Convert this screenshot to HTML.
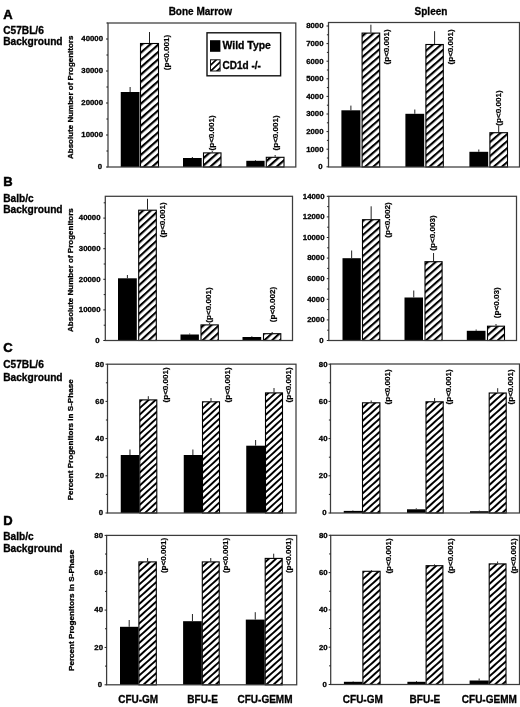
<!DOCTYPE html>
<html><head><meta charset="utf-8"><title>Figure</title>
<style>html,body{margin:0;padding:0;background:#fff;}body{width:520px;height:707px;overflow:hidden;font-family:"Liberation Sans",sans-serif;}svg{display:block;will-change:transform;filter:blur(0.45px);}text{fill:#000;stroke:#000;stroke-width:0.3px;}</style></head>
<body>
<svg width="520" height="707" viewBox="0 0 520 707">
<defs><pattern id="hal" patternUnits="userSpaceOnUse" width="5.480" height="10" patternTransform="rotate(48.65)"><rect x="0" y="0" width="5.480" height="10" fill="#fff"/><rect x="0" y="0" width="2.192" height="10" fill="#000"/></pattern><pattern id="har" patternUnits="userSpaceOnUse" width="5.281" height="10" patternTransform="rotate(48.98)"><rect x="0" y="0" width="5.281" height="10" fill="#fff"/><rect x="0" y="0" width="2.112" height="10" fill="#000"/></pattern><pattern id="hbl" patternUnits="userSpaceOnUse" width="5.225" height="10" patternTransform="rotate(47.39)"><rect x="0" y="0" width="5.225" height="10" fill="#fff"/><rect x="0" y="0" width="2.090" height="10" fill="#000"/></pattern><pattern id="hbr" patternUnits="userSpaceOnUse" width="5.255" height="10" patternTransform="rotate(48.65)"><rect x="0" y="0" width="5.255" height="10" fill="#fff"/><rect x="0" y="0" width="2.102" height="10" fill="#000"/></pattern><pattern id="hcl" patternUnits="userSpaceOnUse" width="4.747" height="10" patternTransform="rotate(47.39)"><rect x="0" y="0" width="4.747" height="10" fill="#fff"/><rect x="0" y="0" width="1.899" height="10" fill="#000"/></pattern><pattern id="hcr" patternUnits="userSpaceOnUse" width="4.906" height="10" patternTransform="rotate(48.01)"><rect x="0" y="0" width="4.906" height="10" fill="#fff"/><rect x="0" y="0" width="1.962" height="10" fill="#000"/></pattern><pattern id="hdl" patternUnits="userSpaceOnUse" width="4.831" height="10" patternTransform="rotate(48.01)"><rect x="0" y="0" width="4.831" height="10" fill="#fff"/><rect x="0" y="0" width="1.933" height="10" fill="#000"/></pattern><pattern id="hdr" patternUnits="userSpaceOnUse" width="4.906" height="10" patternTransform="rotate(48.01)"><rect x="0" y="0" width="4.906" height="10" fill="#fff"/><rect x="0" y="0" width="1.962" height="10" fill="#000"/></pattern><pattern id="hleg" patternUnits="userSpaceOnUse" width="4.350" height="10" patternTransform="rotate(46.47)"><rect x="0" y="0" width="4.350" height="10" fill="#fff"/><rect x="0" y="0" width="1.740" height="10" fill="#000"/></pattern></defs>
<g><rect x="120.75" y="92" width="18.75" height="75.00" fill="#000"/><line x1="130.12" y1="92" x2="130.12" y2="87" stroke="#222" stroke-width="1"/><rect x="140.5" y="43.5" width="18.00" height="123.50" fill="url(#hal)" stroke="#000" stroke-width="1.1"/><line x1="149.50" y1="43" x2="149.50" y2="32" stroke="#222" stroke-width="1"/><rect x="183" y="158" width="18.70" height="9.00" fill="#000"/><line x1="192.35" y1="158" x2="192.35" y2="157" stroke="#222" stroke-width="1"/><rect x="203.5" y="152.9" width="17.50" height="14.10" fill="url(#hal)" stroke="#000" stroke-width="1.1"/><line x1="212.25" y1="152.4" x2="212.25" y2="151" stroke="#222" stroke-width="1"/><rect x="246.3" y="160.8" width="18.30" height="6.20" fill="#000"/><line x1="255.45" y1="160.8" x2="255.45" y2="160" stroke="#222" stroke-width="1"/><rect x="266.3" y="157.3" width="17.70" height="9.70" fill="url(#hal)" stroke="#000" stroke-width="1.1"/><line x1="275.15" y1="156.8" x2="275.15" y2="155" stroke="#222" stroke-width="1"/><rect x="108" y="23" width="187.80" height="144.00" fill="none" stroke="#3c3c3c" stroke-width="1.25"/><line x1="106.0" y1="167.00" x2="108" y2="167.00" stroke="#222" stroke-width="1"/><text x="102.10" y="169.35" text-anchor="end" style="font-family:&quot;Liberation Sans&quot;,sans-serif;font-weight:bold;font-size:7.8px">0</text><line x1="106.0" y1="135.00" x2="108" y2="135.00" stroke="#222" stroke-width="1"/><text x="103.00" y="137.35" text-anchor="end" style="font-family:&quot;Liberation Sans&quot;,sans-serif;font-weight:bold;font-size:7.8px">10000</text><line x1="106.0" y1="103.00" x2="108" y2="103.00" stroke="#222" stroke-width="1"/><text x="103.00" y="105.35" text-anchor="end" style="font-family:&quot;Liberation Sans&quot;,sans-serif;font-weight:bold;font-size:7.8px">20000</text><line x1="106.0" y1="71.00" x2="108" y2="71.00" stroke="#222" stroke-width="1"/><text x="103.00" y="73.35" text-anchor="end" style="font-family:&quot;Liberation Sans&quot;,sans-serif;font-weight:bold;font-size:7.8px">30000</text><line x1="106.0" y1="39.00" x2="108" y2="39.00" stroke="#222" stroke-width="1"/><text x="103.00" y="41.35" text-anchor="end" style="font-family:&quot;Liberation Sans&quot;,sans-serif;font-weight:bold;font-size:7.8px">40000</text><line x1="106.4" y1="151.00" x2="108" y2="151.00" stroke="#222" stroke-width="1"/><line x1="106.4" y1="119.00" x2="108" y2="119.00" stroke="#222" stroke-width="1"/><line x1="106.4" y1="87.00" x2="108" y2="87.00" stroke="#222" stroke-width="1"/><line x1="106.4" y1="55.00" x2="108" y2="55.00" stroke="#222" stroke-width="1"/><line x1="106.4" y1="23.00" x2="108" y2="23.00" stroke="#222" stroke-width="1"/><text transform="translate(168.50,70.20) rotate(-90)" style="font-family:&quot;Liberation Sans&quot;,sans-serif;font-weight:bold;font-size:8.1px;stroke-width:0.22px">(p&lt;0.001)</text><text transform="translate(214.30,150.50) rotate(-90)" style="font-family:&quot;Liberation Sans&quot;,sans-serif;font-weight:bold;font-size:8.1px;stroke-width:0.22px">(p&lt;0.001)</text><text transform="translate(277.50,150.50) rotate(-90)" style="font-family:&quot;Liberation Sans&quot;,sans-serif;font-weight:bold;font-size:8.1px;stroke-width:0.22px">(p&lt;0.001)</text></g>
<g><rect x="341.4" y="110.3" width="19.00" height="56.70" fill="#000"/><line x1="350.90" y1="110.3" x2="350.90" y2="105.6" stroke="#222" stroke-width="1"/><rect x="362.1" y="33.1" width="17.60" height="133.90" fill="url(#har)" stroke="#000" stroke-width="1.1"/><line x1="370.90" y1="32.6" x2="370.90" y2="24.7" stroke="#222" stroke-width="1"/><rect x="405.4" y="113.8" width="18.80" height="53.20" fill="#000"/><line x1="414.80" y1="113.8" x2="414.80" y2="109.5" stroke="#222" stroke-width="1"/><rect x="425.9" y="44.5" width="17.40" height="122.50" fill="url(#har)" stroke="#000" stroke-width="1.1"/><line x1="434.60" y1="44" x2="434.60" y2="31.2" stroke="#222" stroke-width="1"/><rect x="469.4" y="151.8" width="18.80" height="15.20" fill="#000"/><line x1="478.80" y1="151.8" x2="478.80" y2="149.5" stroke="#222" stroke-width="1"/><rect x="489.9" y="132.7" width="17.60" height="34.30" fill="url(#har)" stroke="#000" stroke-width="1.1"/><line x1="498.70" y1="132.2" x2="498.70" y2="125.5" stroke="#222" stroke-width="1"/><rect x="328.5" y="22.5" width="191.00" height="144.50" fill="none" stroke="#3c3c3c" stroke-width="1.25"/><line x1="326.5" y1="166.80" x2="328.5" y2="166.80" stroke="#222" stroke-width="1"/><text x="322.60" y="169.15" text-anchor="end" style="font-family:&quot;Liberation Sans&quot;,sans-serif;font-weight:bold;font-size:7.8px">0</text><line x1="326.5" y1="149.20" x2="328.5" y2="149.20" stroke="#222" stroke-width="1"/><text x="323.50" y="151.55" text-anchor="end" style="font-family:&quot;Liberation Sans&quot;,sans-serif;font-weight:bold;font-size:7.8px">1000</text><line x1="326.5" y1="131.60" x2="328.5" y2="131.60" stroke="#222" stroke-width="1"/><text x="323.50" y="133.95" text-anchor="end" style="font-family:&quot;Liberation Sans&quot;,sans-serif;font-weight:bold;font-size:7.8px">2000</text><line x1="326.5" y1="114.00" x2="328.5" y2="114.00" stroke="#222" stroke-width="1"/><text x="323.50" y="116.35" text-anchor="end" style="font-family:&quot;Liberation Sans&quot;,sans-serif;font-weight:bold;font-size:7.8px">3000</text><line x1="326.5" y1="96.40" x2="328.5" y2="96.40" stroke="#222" stroke-width="1"/><text x="323.50" y="98.75" text-anchor="end" style="font-family:&quot;Liberation Sans&quot;,sans-serif;font-weight:bold;font-size:7.8px">4000</text><line x1="326.5" y1="78.80" x2="328.5" y2="78.80" stroke="#222" stroke-width="1"/><text x="323.50" y="81.15" text-anchor="end" style="font-family:&quot;Liberation Sans&quot;,sans-serif;font-weight:bold;font-size:7.8px">5000</text><line x1="326.5" y1="61.20" x2="328.5" y2="61.20" stroke="#222" stroke-width="1"/><text x="323.50" y="63.55" text-anchor="end" style="font-family:&quot;Liberation Sans&quot;,sans-serif;font-weight:bold;font-size:7.8px">6000</text><line x1="326.5" y1="43.60" x2="328.5" y2="43.60" stroke="#222" stroke-width="1"/><text x="323.50" y="45.95" text-anchor="end" style="font-family:&quot;Liberation Sans&quot;,sans-serif;font-weight:bold;font-size:7.8px">7000</text><line x1="326.5" y1="26.00" x2="328.5" y2="26.00" stroke="#222" stroke-width="1"/><text x="323.50" y="28.35" text-anchor="end" style="font-family:&quot;Liberation Sans&quot;,sans-serif;font-weight:bold;font-size:7.8px">8000</text><line x1="326.9" y1="158.00" x2="328.5" y2="158.00" stroke="#222" stroke-width="1"/><line x1="326.9" y1="140.40" x2="328.5" y2="140.40" stroke="#222" stroke-width="1"/><line x1="326.9" y1="122.80" x2="328.5" y2="122.80" stroke="#222" stroke-width="1"/><line x1="326.9" y1="105.20" x2="328.5" y2="105.20" stroke="#222" stroke-width="1"/><line x1="326.9" y1="87.60" x2="328.5" y2="87.60" stroke="#222" stroke-width="1"/><line x1="326.9" y1="70.00" x2="328.5" y2="70.00" stroke="#222" stroke-width="1"/><line x1="326.9" y1="52.40" x2="328.5" y2="52.40" stroke="#222" stroke-width="1"/><line x1="326.9" y1="34.80" x2="328.5" y2="34.80" stroke="#222" stroke-width="1"/><text transform="translate(388.90,64.50) rotate(-90)" style="font-family:&quot;Liberation Sans&quot;,sans-serif;font-weight:bold;font-size:8.1px;stroke-width:0.22px">(p&lt;0.001)</text><text transform="translate(453.20,64.50) rotate(-90)" style="font-family:&quot;Liberation Sans&quot;,sans-serif;font-weight:bold;font-size:8.1px;stroke-width:0.22px">(p&lt;0.001)</text><text transform="translate(500.70,125.70) rotate(-90)" style="font-family:&quot;Liberation Sans&quot;,sans-serif;font-weight:bold;font-size:8.1px;stroke-width:0.22px">(p&lt;0.001)</text></g>
<g><rect x="118" y="278.3" width="18.80" height="62.20" fill="#000"/><line x1="127.40" y1="278.3" x2="127.40" y2="275" stroke="#222" stroke-width="1"/><rect x="138.7" y="210.2" width="17.60" height="130.30" fill="url(#hbl)" stroke="#000" stroke-width="1.1"/><line x1="147.50" y1="209.7" x2="147.50" y2="198.8" stroke="#222" stroke-width="1"/><rect x="180.5" y="334.5" width="18.40" height="6.00" fill="#000"/><line x1="189.70" y1="334.5" x2="189.70" y2="333.5" stroke="#222" stroke-width="1"/><rect x="201.0" y="324.9" width="17.30" height="15.60" fill="url(#hbl)" stroke="#000" stroke-width="1.1"/><line x1="209.65" y1="324.4" x2="209.65" y2="323" stroke="#222" stroke-width="1"/><rect x="242.5" y="337" width="18.70" height="3.50" fill="#000"/><line x1="251.85" y1="337" x2="251.85" y2="336.3" stroke="#222" stroke-width="1"/><rect x="263.5" y="333.7" width="17.30" height="6.80" fill="url(#hbl)" stroke="#000" stroke-width="1.1"/><line x1="272.15" y1="333.2" x2="272.15" y2="332" stroke="#222" stroke-width="1"/><rect x="105.3" y="196.3" width="187.20" height="144.20" fill="none" stroke="#3c3c3c" stroke-width="1.25"/><line x1="103.3" y1="340.50" x2="105.3" y2="340.50" stroke="#222" stroke-width="1"/><text x="99.60" y="342.85" text-anchor="end" style="font-family:&quot;Liberation Sans&quot;,sans-serif;font-weight:bold;font-size:7.8px">0</text><line x1="103.3" y1="309.90" x2="105.3" y2="309.90" stroke="#222" stroke-width="1"/><text x="100.50" y="312.25" text-anchor="end" style="font-family:&quot;Liberation Sans&quot;,sans-serif;font-weight:bold;font-size:7.8px">10000</text><line x1="103.3" y1="279.30" x2="105.3" y2="279.30" stroke="#222" stroke-width="1"/><text x="100.50" y="281.65" text-anchor="end" style="font-family:&quot;Liberation Sans&quot;,sans-serif;font-weight:bold;font-size:7.8px">20000</text><line x1="103.3" y1="248.70" x2="105.3" y2="248.70" stroke="#222" stroke-width="1"/><text x="100.50" y="251.05" text-anchor="end" style="font-family:&quot;Liberation Sans&quot;,sans-serif;font-weight:bold;font-size:7.8px">30000</text><line x1="103.3" y1="218.10" x2="105.3" y2="218.10" stroke="#222" stroke-width="1"/><text x="100.50" y="220.45" text-anchor="end" style="font-family:&quot;Liberation Sans&quot;,sans-serif;font-weight:bold;font-size:7.8px">40000</text><line x1="103.7" y1="325.20" x2="105.3" y2="325.20" stroke="#222" stroke-width="1"/><line x1="103.7" y1="294.60" x2="105.3" y2="294.60" stroke="#222" stroke-width="1"/><line x1="103.7" y1="264.00" x2="105.3" y2="264.00" stroke="#222" stroke-width="1"/><line x1="103.7" y1="233.40" x2="105.3" y2="233.40" stroke="#222" stroke-width="1"/><line x1="103.7" y1="202.80" x2="105.3" y2="202.80" stroke="#222" stroke-width="1"/><text transform="translate(164.50,237.50) rotate(-90)" style="font-family:&quot;Liberation Sans&quot;,sans-serif;font-weight:bold;font-size:8.1px;stroke-width:0.22px">(p&lt;0.001)</text><text transform="translate(211.30,322.70) rotate(-90)" style="font-family:&quot;Liberation Sans&quot;,sans-serif;font-weight:bold;font-size:8.1px;stroke-width:0.22px">(p&lt;0.001)</text><text transform="translate(274.50,322.20) rotate(-90)" style="font-family:&quot;Liberation Sans&quot;,sans-serif;font-weight:bold;font-size:8.1px;stroke-width:0.22px">(p&lt;0.002)</text></g>
<g><rect x="342.5" y="258.2" width="18.30" height="82.30" fill="#000"/><line x1="351.65" y1="258.2" x2="351.65" y2="250.5" stroke="#222" stroke-width="1"/><rect x="362.5" y="219.7" width="17.30" height="120.80" fill="url(#hbr)" stroke="#000" stroke-width="1.1"/><line x1="371.15" y1="219.2" x2="371.15" y2="206.3" stroke="#222" stroke-width="1"/><rect x="404.5" y="297.5" width="18.50" height="43.00" fill="#000"/><line x1="413.75" y1="297.5" x2="413.75" y2="290.5" stroke="#222" stroke-width="1"/><rect x="425.0" y="261.7" width="17.10" height="78.80" fill="url(#hbr)" stroke="#000" stroke-width="1.1"/><line x1="433.55" y1="261.2" x2="433.55" y2="253" stroke="#222" stroke-width="1"/><rect x="466.8" y="330.8" width="18.70" height="9.70" fill="#000"/><line x1="476.15" y1="330.8" x2="476.15" y2="329.5" stroke="#222" stroke-width="1"/><rect x="487.5" y="326.2" width="17.00" height="14.30" fill="url(#hbr)" stroke="#000" stroke-width="1.1"/><line x1="496.00" y1="325.7" x2="496.00" y2="324" stroke="#222" stroke-width="1"/><rect x="328.8" y="196.3" width="187.70" height="144.20" fill="none" stroke="#3c3c3c" stroke-width="1.25"/><line x1="326.8" y1="340.50" x2="328.8" y2="340.50" stroke="#222" stroke-width="1"/><text x="323.60" y="342.85" text-anchor="end" style="font-family:&quot;Liberation Sans&quot;,sans-serif;font-weight:bold;font-size:7.8px">0</text><line x1="326.8" y1="319.90" x2="328.8" y2="319.90" stroke="#222" stroke-width="1"/><text x="324.50" y="322.25" text-anchor="end" style="font-family:&quot;Liberation Sans&quot;,sans-serif;font-weight:bold;font-size:7.8px">2000</text><line x1="326.8" y1="299.30" x2="328.8" y2="299.30" stroke="#222" stroke-width="1"/><text x="324.50" y="301.65" text-anchor="end" style="font-family:&quot;Liberation Sans&quot;,sans-serif;font-weight:bold;font-size:7.8px">4000</text><line x1="326.8" y1="278.70" x2="328.8" y2="278.70" stroke="#222" stroke-width="1"/><text x="324.50" y="281.05" text-anchor="end" style="font-family:&quot;Liberation Sans&quot;,sans-serif;font-weight:bold;font-size:7.8px">6000</text><line x1="326.8" y1="258.10" x2="328.8" y2="258.10" stroke="#222" stroke-width="1"/><text x="324.50" y="260.45" text-anchor="end" style="font-family:&quot;Liberation Sans&quot;,sans-serif;font-weight:bold;font-size:7.8px">8000</text><line x1="326.8" y1="237.50" x2="328.8" y2="237.50" stroke="#222" stroke-width="1"/><text x="324.50" y="239.85" text-anchor="end" style="font-family:&quot;Liberation Sans&quot;,sans-serif;font-weight:bold;font-size:7.8px">10000</text><line x1="326.8" y1="216.90" x2="328.8" y2="216.90" stroke="#222" stroke-width="1"/><text x="324.50" y="219.25" text-anchor="end" style="font-family:&quot;Liberation Sans&quot;,sans-serif;font-weight:bold;font-size:7.8px">12000</text><line x1="326.8" y1="196.30" x2="328.8" y2="196.30" stroke="#222" stroke-width="1"/><text x="324.50" y="198.65" text-anchor="end" style="font-family:&quot;Liberation Sans&quot;,sans-serif;font-weight:bold;font-size:7.8px">14000</text><line x1="327.2" y1="330.20" x2="328.8" y2="330.20" stroke="#222" stroke-width="1"/><line x1="327.2" y1="309.60" x2="328.8" y2="309.60" stroke="#222" stroke-width="1"/><line x1="327.2" y1="289.00" x2="328.8" y2="289.00" stroke="#222" stroke-width="1"/><line x1="327.2" y1="268.40" x2="328.8" y2="268.40" stroke="#222" stroke-width="1"/><line x1="327.2" y1="247.80" x2="328.8" y2="247.80" stroke="#222" stroke-width="1"/><line x1="327.2" y1="227.20" x2="328.8" y2="227.20" stroke="#222" stroke-width="1"/><line x1="327.2" y1="206.60" x2="328.8" y2="206.60" stroke="#222" stroke-width="1"/><text transform="translate(390.30,237.70) rotate(-90)" style="font-family:&quot;Liberation Sans&quot;,sans-serif;font-weight:bold;font-size:8.1px;stroke-width:0.22px">(p&lt;0.002)</text><text transform="translate(435.30,250.70) rotate(-90)" style="font-family:&quot;Liberation Sans&quot;,sans-serif;font-weight:bold;font-size:8.1px;stroke-width:0.22px">(p&lt;0.003)</text><text transform="translate(498.70,318.20) rotate(-90)" style="font-family:&quot;Liberation Sans&quot;,sans-serif;font-weight:bold;font-size:8.1px;stroke-width:0.22px">(p&lt;0.03)</text></g>
<g><rect x="120.75" y="455" width="18.45" height="58.00" fill="#000"/><line x1="129.97" y1="455" x2="129.97" y2="449.5" stroke="#222" stroke-width="1"/><rect x="139.8" y="399.9" width="17.00" height="113.10" fill="url(#hcl)" stroke="#000" stroke-width="1.1"/><line x1="148.30" y1="399.4" x2="148.30" y2="396.2" stroke="#222" stroke-width="1"/><rect x="183.75" y="455" width="18.25" height="58.00" fill="#000"/><line x1="192.88" y1="455" x2="192.88" y2="449.5" stroke="#222" stroke-width="1"/><rect x="202.5" y="401.8" width="17.00" height="111.20" fill="url(#hcl)" stroke="#000" stroke-width="1.1"/><line x1="211.00" y1="401.3" x2="211.00" y2="398" stroke="#222" stroke-width="1"/><rect x="246.25" y="445.7" width="18.75" height="67.30" fill="#000"/><line x1="255.62" y1="445.7" x2="255.62" y2="440" stroke="#222" stroke-width="1"/><rect x="265.5" y="392.9" width="17.00" height="120.10" fill="url(#hcl)" stroke="#000" stroke-width="1.1"/><line x1="274.00" y1="392.4" x2="274.00" y2="388" stroke="#222" stroke-width="1"/><rect x="107.5" y="364.2" width="188.50" height="148.80" fill="none" stroke="#3c3c3c" stroke-width="1.25"/><line x1="105.5" y1="513.00" x2="107.5" y2="513.00" stroke="#222" stroke-width="1"/><text x="103.10" y="515.35" text-anchor="end" style="font-family:&quot;Liberation Sans&quot;,sans-serif;font-weight:bold;font-size:7.8px">0</text><line x1="105.5" y1="475.80" x2="107.5" y2="475.80" stroke="#222" stroke-width="1"/><text x="104.00" y="478.15" text-anchor="end" style="font-family:&quot;Liberation Sans&quot;,sans-serif;font-weight:bold;font-size:7.8px">20</text><line x1="105.5" y1="438.60" x2="107.5" y2="438.60" stroke="#222" stroke-width="1"/><text x="104.00" y="440.95" text-anchor="end" style="font-family:&quot;Liberation Sans&quot;,sans-serif;font-weight:bold;font-size:7.8px">40</text><line x1="105.5" y1="401.40" x2="107.5" y2="401.40" stroke="#222" stroke-width="1"/><text x="104.00" y="403.75" text-anchor="end" style="font-family:&quot;Liberation Sans&quot;,sans-serif;font-weight:bold;font-size:7.8px">60</text><line x1="105.5" y1="364.20" x2="107.5" y2="364.20" stroke="#222" stroke-width="1"/><text x="104.00" y="366.55" text-anchor="end" style="font-family:&quot;Liberation Sans&quot;,sans-serif;font-weight:bold;font-size:7.8px">80</text><line x1="105.9" y1="494.40" x2="107.5" y2="494.40" stroke="#222" stroke-width="1"/><line x1="105.9" y1="457.20" x2="107.5" y2="457.20" stroke="#222" stroke-width="1"/><line x1="105.9" y1="420.00" x2="107.5" y2="420.00" stroke="#222" stroke-width="1"/><line x1="105.9" y1="382.80" x2="107.5" y2="382.80" stroke="#222" stroke-width="1"/><text transform="translate(167.80,402.50) rotate(-90)" style="font-family:&quot;Liberation Sans&quot;,sans-serif;font-weight:bold;font-size:8.1px;stroke-width:0.22px">(p&lt;0.001)</text><text transform="translate(229.50,402.50) rotate(-90)" style="font-family:&quot;Liberation Sans&quot;,sans-serif;font-weight:bold;font-size:8.1px;stroke-width:0.22px">(p&lt;0.001)</text><text transform="translate(291.30,402.50) rotate(-90)" style="font-family:&quot;Liberation Sans&quot;,sans-serif;font-weight:bold;font-size:8.1px;stroke-width:0.22px">(p&lt;0.001)</text></g>
<g><rect x="343.75" y="510.9" width="18.25" height="2.10" fill="#000"/><line x1="352.88" y1="510.9" x2="352.88" y2="510.4" stroke="#222" stroke-width="1"/><rect x="362.5" y="402.8" width="17.40" height="110.20" fill="url(#hcr)" stroke="#000" stroke-width="1.1"/><line x1="371.20" y1="402.3" x2="371.20" y2="400.5" stroke="#222" stroke-width="1"/><rect x="407" y="509.3" width="18.50" height="3.70" fill="#000"/><line x1="416.25" y1="509.3" x2="416.25" y2="508.3" stroke="#222" stroke-width="1"/><rect x="426.0" y="401.8" width="17.20" height="111.20" fill="url(#hcr)" stroke="#000" stroke-width="1.1"/><line x1="434.60" y1="401.3" x2="434.60" y2="398" stroke="#222" stroke-width="1"/><rect x="470" y="511.2" width="18.70" height="1.80" fill="#000"/><line x1="479.35" y1="511.2" x2="479.35" y2="510.7" stroke="#222" stroke-width="1"/><rect x="489.2" y="393.0" width="17.00" height="120.00" fill="url(#hcr)" stroke="#000" stroke-width="1.1"/><line x1="497.70" y1="392.5" x2="497.70" y2="388.2" stroke="#222" stroke-width="1"/><rect x="330.5" y="364" width="189.00" height="149.00" fill="none" stroke="#3c3c3c" stroke-width="1.25"/><line x1="328.5" y1="513.00" x2="330.5" y2="513.00" stroke="#222" stroke-width="1"/><text x="326.60" y="515.35" text-anchor="end" style="font-family:&quot;Liberation Sans&quot;,sans-serif;font-weight:bold;font-size:7.8px">0</text><line x1="328.5" y1="475.80" x2="330.5" y2="475.80" stroke="#222" stroke-width="1"/><text x="327.50" y="478.15" text-anchor="end" style="font-family:&quot;Liberation Sans&quot;,sans-serif;font-weight:bold;font-size:7.8px">20</text><line x1="328.5" y1="438.60" x2="330.5" y2="438.60" stroke="#222" stroke-width="1"/><text x="327.50" y="440.95" text-anchor="end" style="font-family:&quot;Liberation Sans&quot;,sans-serif;font-weight:bold;font-size:7.8px">40</text><line x1="328.5" y1="401.40" x2="330.5" y2="401.40" stroke="#222" stroke-width="1"/><text x="327.50" y="403.75" text-anchor="end" style="font-family:&quot;Liberation Sans&quot;,sans-serif;font-weight:bold;font-size:7.8px">60</text><line x1="328.5" y1="364.20" x2="330.5" y2="364.20" stroke="#222" stroke-width="1"/><text x="327.50" y="366.55" text-anchor="end" style="font-family:&quot;Liberation Sans&quot;,sans-serif;font-weight:bold;font-size:7.8px">80</text><line x1="328.9" y1="494.40" x2="330.5" y2="494.40" stroke="#222" stroke-width="1"/><line x1="328.9" y1="457.20" x2="330.5" y2="457.20" stroke="#222" stroke-width="1"/><line x1="328.9" y1="420.00" x2="330.5" y2="420.00" stroke="#222" stroke-width="1"/><line x1="328.9" y1="382.80" x2="330.5" y2="382.80" stroke="#222" stroke-width="1"/><text transform="translate(389.50,404.50) rotate(-90)" style="font-family:&quot;Liberation Sans&quot;,sans-serif;font-weight:bold;font-size:8.1px;stroke-width:0.22px">(p&lt;0.001)</text><text transform="translate(450.80,404.50) rotate(-90)" style="font-family:&quot;Liberation Sans&quot;,sans-serif;font-weight:bold;font-size:8.1px;stroke-width:0.22px">(p&lt;0.001)</text><text transform="translate(513.30,404.50) rotate(-90)" style="font-family:&quot;Liberation Sans&quot;,sans-serif;font-weight:bold;font-size:8.1px;stroke-width:0.22px">(p&lt;0.001)</text></g>
<g><rect x="120" y="626.8" width="18.40" height="58.00" fill="#000"/><line x1="129.20" y1="626.8" x2="129.20" y2="620" stroke="#222" stroke-width="1"/><rect x="138.9" y="561.9" width="17.40" height="122.90" fill="url(#hdl)" stroke="#000" stroke-width="1.1"/><line x1="147.60" y1="561.4" x2="147.60" y2="558" stroke="#222" stroke-width="1"/><rect x="183.1" y="621.2" width="18.70" height="63.60" fill="#000"/><line x1="192.45" y1="621.2" x2="192.45" y2="614" stroke="#222" stroke-width="1"/><rect x="202.3" y="561.9" width="16.90" height="122.90" fill="url(#hdl)" stroke="#000" stroke-width="1.1"/><line x1="210.75" y1="561.4" x2="210.75" y2="558" stroke="#222" stroke-width="1"/><rect x="245.8" y="619.6" width="18.90" height="65.20" fill="#000"/><line x1="255.25" y1="619.6" x2="255.25" y2="612.2" stroke="#222" stroke-width="1"/><rect x="265.2" y="558.4" width="17.00" height="126.40" fill="url(#hdl)" stroke="#000" stroke-width="1.1"/><line x1="273.70" y1="557.9" x2="273.70" y2="553.7" stroke="#222" stroke-width="1"/><rect x="106.6" y="535.4" width="190.10" height="149.40" fill="none" stroke="#3c3c3c" stroke-width="1.25"/><line x1="104.6" y1="684.80" x2="106.6" y2="684.80" stroke="#222" stroke-width="1"/><text x="102.10" y="687.15" text-anchor="end" style="font-family:&quot;Liberation Sans&quot;,sans-serif;font-weight:bold;font-size:7.8px">0</text><line x1="104.6" y1="647.45" x2="106.6" y2="647.45" stroke="#222" stroke-width="1"/><text x="103.00" y="649.80" text-anchor="end" style="font-family:&quot;Liberation Sans&quot;,sans-serif;font-weight:bold;font-size:7.8px">20</text><line x1="104.6" y1="610.10" x2="106.6" y2="610.10" stroke="#222" stroke-width="1"/><text x="103.00" y="612.45" text-anchor="end" style="font-family:&quot;Liberation Sans&quot;,sans-serif;font-weight:bold;font-size:7.8px">40</text><line x1="104.6" y1="572.75" x2="106.6" y2="572.75" stroke="#222" stroke-width="1"/><text x="103.00" y="575.10" text-anchor="end" style="font-family:&quot;Liberation Sans&quot;,sans-serif;font-weight:bold;font-size:7.8px">60</text><line x1="104.6" y1="535.40" x2="106.6" y2="535.40" stroke="#222" stroke-width="1"/><text x="103.00" y="537.75" text-anchor="end" style="font-family:&quot;Liberation Sans&quot;,sans-serif;font-weight:bold;font-size:7.8px">80</text><line x1="105.0" y1="666.12" x2="106.6" y2="666.12" stroke="#222" stroke-width="1"/><line x1="105.0" y1="628.76" x2="106.6" y2="628.76" stroke="#222" stroke-width="1"/><line x1="105.0" y1="591.40" x2="106.6" y2="591.40" stroke="#222" stroke-width="1"/><line x1="105.0" y1="554.04" x2="106.6" y2="554.04" stroke="#222" stroke-width="1"/><text transform="translate(166.00,573.10) rotate(-90)" style="font-family:&quot;Liberation Sans&quot;,sans-serif;font-weight:bold;font-size:8.1px;stroke-width:0.22px">(p&lt;0.001)</text><text transform="translate(228.00,573.10) rotate(-90)" style="font-family:&quot;Liberation Sans&quot;,sans-serif;font-weight:bold;font-size:8.1px;stroke-width:0.22px">(p&lt;0.001)</text><text transform="translate(290.90,573.10) rotate(-90)" style="font-family:&quot;Liberation Sans&quot;,sans-serif;font-weight:bold;font-size:8.1px;stroke-width:0.22px">(p&lt;0.001)</text></g>
<g><rect x="343.9" y="681.8" width="18.50" height="2.70" fill="#000"/><line x1="353.15" y1="681.8" x2="353.15" y2="681.3" stroke="#222" stroke-width="1"/><rect x="362.9" y="571.3" width="17.20" height="113.20" fill="url(#hdr)" stroke="#000" stroke-width="1.1"/><line x1="371.50" y1="570.8" x2="371.50" y2="570" stroke="#222" stroke-width="1"/><rect x="407.4" y="681.8" width="18.20" height="2.70" fill="#000"/><line x1="416.50" y1="681.8" x2="416.50" y2="681" stroke="#222" stroke-width="1"/><rect x="426.1" y="565.7" width="16.80" height="118.80" fill="url(#hdr)" stroke="#000" stroke-width="1.1"/><line x1="434.50" y1="565.2" x2="434.50" y2="564.4" stroke="#222" stroke-width="1"/><rect x="469.6" y="680.5" width="19.10" height="4.00" fill="#000"/><line x1="479.15" y1="680.5" x2="479.15" y2="678.5" stroke="#222" stroke-width="1"/><rect x="489.2" y="563.9" width="16.80" height="120.60" fill="url(#hdr)" stroke="#000" stroke-width="1.1"/><line x1="497.60" y1="563.4" x2="497.60" y2="561.5" stroke="#222" stroke-width="1"/><rect x="330.7" y="535.3" width="188.80" height="149.20" fill="none" stroke="#3c3c3c" stroke-width="1.25"/><line x1="328.7" y1="684.50" x2="330.7" y2="684.50" stroke="#222" stroke-width="1"/><text x="326.80" y="686.85" text-anchor="end" style="font-family:&quot;Liberation Sans&quot;,sans-serif;font-weight:bold;font-size:7.8px">0</text><line x1="328.7" y1="647.20" x2="330.7" y2="647.20" stroke="#222" stroke-width="1"/><text x="327.70" y="649.55" text-anchor="end" style="font-family:&quot;Liberation Sans&quot;,sans-serif;font-weight:bold;font-size:7.8px">20</text><line x1="328.7" y1="609.90" x2="330.7" y2="609.90" stroke="#222" stroke-width="1"/><text x="327.70" y="612.25" text-anchor="end" style="font-family:&quot;Liberation Sans&quot;,sans-serif;font-weight:bold;font-size:7.8px">40</text><line x1="328.7" y1="572.60" x2="330.7" y2="572.60" stroke="#222" stroke-width="1"/><text x="327.70" y="574.95" text-anchor="end" style="font-family:&quot;Liberation Sans&quot;,sans-serif;font-weight:bold;font-size:7.8px">60</text><line x1="328.7" y1="535.30" x2="330.7" y2="535.30" stroke="#222" stroke-width="1"/><text x="327.70" y="537.65" text-anchor="end" style="font-family:&quot;Liberation Sans&quot;,sans-serif;font-weight:bold;font-size:7.8px">80</text><line x1="329.09999999999997" y1="665.85" x2="330.7" y2="665.85" stroke="#222" stroke-width="1"/><line x1="329.09999999999997" y1="628.55" x2="330.7" y2="628.55" stroke="#222" stroke-width="1"/><line x1="329.09999999999997" y1="591.25" x2="330.7" y2="591.25" stroke="#222" stroke-width="1"/><line x1="329.09999999999997" y1="553.95" x2="330.7" y2="553.95" stroke="#222" stroke-width="1"/><text transform="translate(391.20,573.60) rotate(-90)" style="font-family:&quot;Liberation Sans&quot;,sans-serif;font-weight:bold;font-size:8.1px;stroke-width:0.22px">(p&lt;0.001)</text><text transform="translate(453.30,573.60) rotate(-90)" style="font-family:&quot;Liberation Sans&quot;,sans-serif;font-weight:bold;font-size:8.1px;stroke-width:0.22px">(p&lt;0.001)</text><text transform="translate(515.50,573.60) rotate(-90)" style="font-family:&quot;Liberation Sans&quot;,sans-serif;font-weight:bold;font-size:8.1px;stroke-width:0.22px">(p&lt;0.001)</text></g>
<rect x="207" y="32.8" width="73.6" height="43" fill="#fff" stroke="#111" stroke-width="1.4"/>
<rect x="210" y="40.2" width="10.4" height="11.6" fill="#000"/>
<rect x="210.5" y="59.8" width="9.6" height="11.2" fill="url(#hleg)" stroke="#111" stroke-width="1"/>
<text x="222.5" y="49" textLength="48.4" lengthAdjust="spacingAndGlyphs" style="font-family:&quot;Liberation Sans&quot;,sans-serif;font-weight:bold;font-size:10px">Wild Type</text>
<text x="222.5" y="68.7" style="font-family:&quot;Liberation Sans&quot;,sans-serif;font-weight:bold;font-size:10px">CD1d -/-</text>
<text x="200.3" y="14.6" text-anchor="middle" style="font-family:&quot;Liberation Sans&quot;,sans-serif;font-weight:bold;font-size:10px">Bone Marrow</text>
<text x="431" y="14.7" text-anchor="middle" style="font-family:&quot;Liberation Sans&quot;,sans-serif;font-weight:bold;font-size:10px">Spleen</text>
<text x="3.2" y="19.1" style="font-family:&quot;Liberation Sans&quot;,sans-serif;font-weight:bold;font-size:13px;stroke-width:0.5px">A</text>
<text x="3.2" y="33.6" textLength="40.6" lengthAdjust="spacingAndGlyphs" style="font-family:&quot;Liberation Sans&quot;,sans-serif;font-weight:bold;font-size:10px">C57BL/6</text>
<text x="3.2" y="45.3" textLength="59.4" lengthAdjust="spacingAndGlyphs" style="font-family:&quot;Liberation Sans&quot;,sans-serif;font-weight:bold;font-size:10px">Background</text>
<text x="3.2" y="186" style="font-family:&quot;Liberation Sans&quot;,sans-serif;font-weight:bold;font-size:13px;stroke-width:0.5px">B</text>
<text x="3.2" y="201.8" textLength="30.4" lengthAdjust="spacingAndGlyphs" style="font-family:&quot;Liberation Sans&quot;,sans-serif;font-weight:bold;font-size:10px">Balb/c</text>
<text x="3.2" y="212.8" textLength="59.4" lengthAdjust="spacingAndGlyphs" style="font-family:&quot;Liberation Sans&quot;,sans-serif;font-weight:bold;font-size:10px">Background</text>
<text x="3.2" y="352.3" style="font-family:&quot;Liberation Sans&quot;,sans-serif;font-weight:bold;font-size:13px;stroke-width:0.5px">C</text>
<text x="3.2" y="368" textLength="40.6" lengthAdjust="spacingAndGlyphs" style="font-family:&quot;Liberation Sans&quot;,sans-serif;font-weight:bold;font-size:10px">C57BL/6</text>
<text x="3.2" y="380.7" textLength="59.4" lengthAdjust="spacingAndGlyphs" style="font-family:&quot;Liberation Sans&quot;,sans-serif;font-weight:bold;font-size:10px">Background</text>
<text x="3.2" y="524.7" style="font-family:&quot;Liberation Sans&quot;,sans-serif;font-weight:bold;font-size:13px;stroke-width:0.5px">D</text>
<text x="3.2" y="539.9" textLength="30.4" lengthAdjust="spacingAndGlyphs" style="font-family:&quot;Liberation Sans&quot;,sans-serif;font-weight:bold;font-size:10px">Balb/c</text>
<text x="3.2" y="551.8" textLength="59.4" lengthAdjust="spacingAndGlyphs" style="font-family:&quot;Liberation Sans&quot;,sans-serif;font-weight:bold;font-size:10px">Background</text>
<text transform="translate(73.2,159) rotate(-90)" textLength="123.4" lengthAdjust="spacingAndGlyphs" style="font-family:&quot;Liberation Sans&quot;,sans-serif;font-weight:bold;font-size:8px">Absolute Number of Progenitors</text>
<text transform="translate(73.2,332) rotate(-90)" textLength="123.8" lengthAdjust="spacingAndGlyphs" style="font-family:&quot;Liberation Sans&quot;,sans-serif;font-weight:bold;font-size:8px">Absolute Number of Progenitors</text>
<text transform="translate(73.2,500.3) rotate(-90)" textLength="121" lengthAdjust="spacingAndGlyphs" style="font-family:&quot;Liberation Sans&quot;,sans-serif;font-weight:bold;font-size:8px">Percent Progenitors in S-Phase</text>
<text transform="translate(73.5,671) rotate(-90)" textLength="121.3" lengthAdjust="spacingAndGlyphs" style="font-family:&quot;Liberation Sans&quot;,sans-serif;font-weight:bold;font-size:8px">Percent Progenitors in S-Phase</text>
<text x="118.2" y="702.6" style="font-family:&quot;Liberation Sans&quot;,sans-serif;font-weight:bold;font-size:10px">CFU-GM</text>
<text x="187.3" y="702.6" style="font-family:&quot;Liberation Sans&quot;,sans-serif;font-weight:bold;font-size:10px">BFU-E</text>
<text x="237.5" y="702.6" style="font-family:&quot;Liberation Sans&quot;,sans-serif;font-weight:bold;font-size:10px">CFU-GEMM</text>
<text x="342.8" y="702.6" style="font-family:&quot;Liberation Sans&quot;,sans-serif;font-weight:bold;font-size:10px">CFU-GM</text>
<text x="409.6" y="702.6" style="font-family:&quot;Liberation Sans&quot;,sans-serif;font-weight:bold;font-size:10px">BFU-E</text>
<text x="461.8" y="702.6" style="font-family:&quot;Liberation Sans&quot;,sans-serif;font-weight:bold;font-size:10px">CFU-GEMM</text>
</svg>
</body></html>
